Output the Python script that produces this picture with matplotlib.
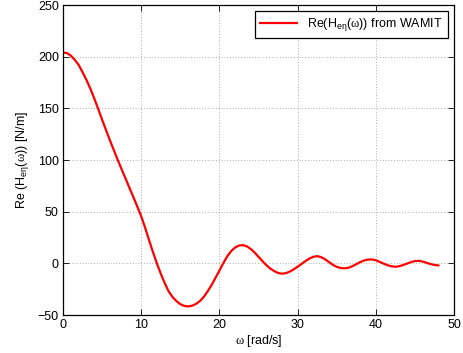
import matplotlib
matplotlib.use("Agg")
import matplotlib.pyplot as plt
import numpy as np

# values
omega = [0.0, 0.5, 1.0, 1.5, 2.0, 2.5, 3.0, 3.5, 4.0, 4.5, 5.0, 5.5, 6.0, 6.5,
         7.0, 7.5, 8.0, 8.5, 9.0, 9.5, 10.0, 10.5, 11.0, 11.5, 12.0, 12.5,
         13.0, 13.5, 14.0, 14.5, 15.0, 15.5, 16.0, 16.5, 17.0, 17.5, 18.0,
         18.5, 19.0, 19.5, 20.0, 20.5, 21.0, 21.5, 22.0, 22.5, 23.0, 23.5,
         24.0, 24.5, 25.0, 25.5, 26.0, 26.5, 27.0, 27.5, 28.0, 28.5, 29.0,
         29.5, 30.0, 30.5, 31.0, 31.5, 32.0, 32.5, 33.0, 33.5, 34.0, 34.5,
         35.0, 35.5, 36.0, 36.5, 37.0, 37.5, 38.0, 38.5, 39.0, 39.5, 40.0,
         40.5, 41.0, 41.5, 42.0, 42.5, 43.0, 43.5, 44.0, 44.5, 45.0, 45.5,
         46.0, 46.5, 47.0, 47.5, 48.0]
re_h = [204.0, 203.5, 201.0, 197.0, 192.0, 185.0, 177.4, 169.0, 159.5, 149.4,
        139.0, 129.0, 119.0, 109.5, 100.0, 91.0, 82.0, 73.0, 64.0, 55.0, 45.5,
        34.5, 22.5, 11.0, 0.0, -10.0, -19.0, -27.0, -32.5, -36.5, -39.5,
        -41.2, -41.7, -41.0, -39.3, -36.5, -32.5, -27.0, -21.0, -14.0, -7.0,
        0.2, 6.8, 11.8, 15.3, 17.2, 17.7, 16.5, 14.0, 10.5, 6.3, 2.2, -1.8,
        -5.0, -7.5, -9.3, -10.0, -9.5, -8.0, -5.8, -3.3, -0.6, 2.2, 4.6, 6.3,
        7.0, 6.0, 4.0, 1.3, -1.4, -3.4, -4.5, -4.8, -4.3, -2.8, -0.8, 1.2,
        2.8, 3.7, 3.8, 3.0, 1.4, -0.3, -1.8, -2.9, -3.3, -2.8, -1.6, -0.2,
        1.2, 2.2, 2.4, 1.7, 0.5, -0.7, -1.6, -2.0]

xticks = [0, 10, 20, 30, 40, 50]
yticks = [-50, 0, 50, 100, 150, 200, 250]

plt.rcParams['font.family'] = ['Liberation Sans', 'DejaVu Sans']
plt.rcParams['mathtext.fontset'] = 'custom'
plt.rcParams['mathtext.rm'] = 'Liberation Sans'
plt.rcParams['mathtext.it'] = 'Liberation Sans'
plt.rcParams['mathtext.sf'] = 'Liberation Serif'  # serif omega like the original
fs = 9
w = r'$\mathsf{ω}$'

fig = plt.figure(figsize=(4.64, 3.53), dpi=100)
ax = fig.add_axes([0.1358, 0.1076, 0.8427, 0.8782])

ax.plot(omega, re_h, color='red', lw=1.6,
        label='Re(H$_{\\mathregular{eη}}$(' + w + ')) from WAMIT')

ax.set_xlim(0, 50)
ax.set_ylim(-50, 250)
ax.set_xticks(xticks)
ax.set_yticks(yticks)
ax.set_xticklabels([str(t) for t in xticks], fontsize=fs)
ax.set_yticklabels([str(t).replace('-', '\u2212') for t in yticks], fontsize=fs)
ax.tick_params(direction='in', top=True, right=True, length=4, width=0.6,
               pad=3)
ax.grid(True, linestyle=(0, (1, 3)), color='black', lw=0.5, alpha=0.6)
for s in ax.spines.values():
    s.set_linewidth(0.9)

ax.set_xlabel(w + ' [rad/s]', fontsize=fs, labelpad=1)
ax.set_ylabel('Re (H$_{\\mathregular{eη}}$(' + w + ')) [N/m]', fontsize=fs,
              labelpad=5)

leg = ax.legend(loc='upper right', fontsize=fs, fancybox=False,
                framealpha=1, edgecolor='black', handlelength=3.0,
                borderaxespad=0.5, borderpad=0.4)
leg.get_frame().set_linewidth(0.9)

fig.savefig('out.png', dpi=100)
